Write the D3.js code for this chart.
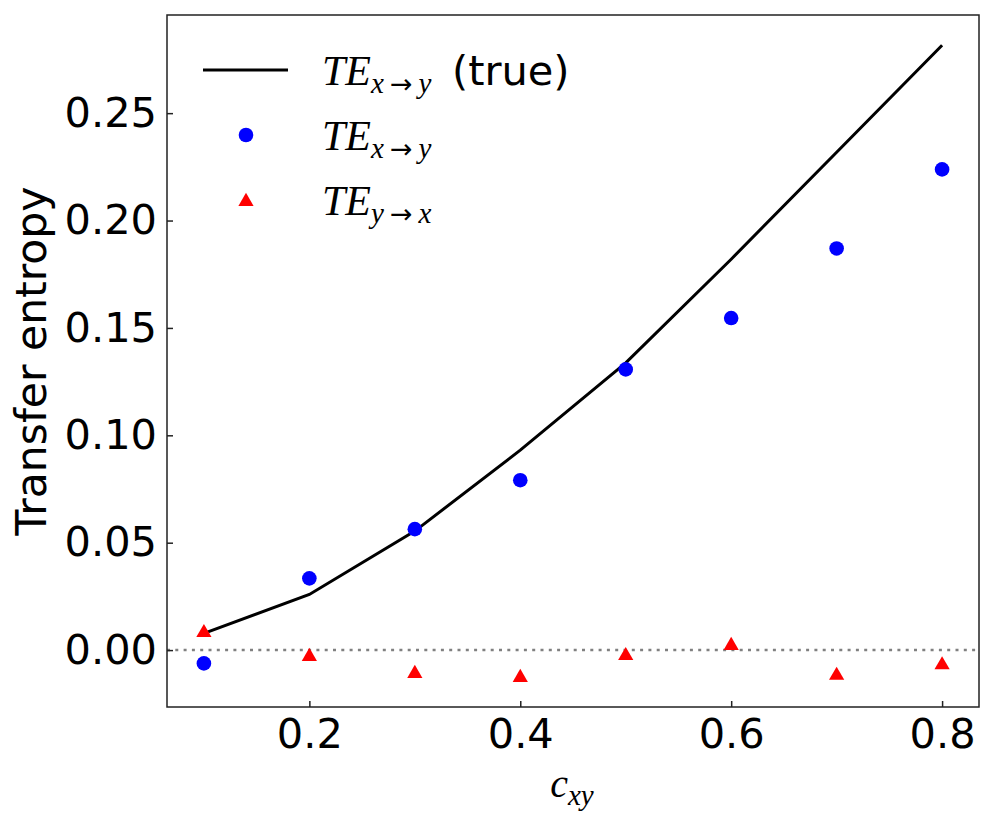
<!DOCTYPE html>
<html>
<head>
<meta charset="utf-8">
<script src="https://cdn.jsdelivr.net/npm/d3@7"></script>
<style>
  body { margin:0; background:#fff; }
  svg text { fill:#000; }
  .tick-lbl { font-family:"DejaVu Sans", sans-serif; font-size:41.5px; }
  .math { font-family:"Liberation Serif", "DejaVu Serif", serif; font-style:italic; }
</style>
</head>
<body>
<div id="chart"></div>
<script>
// ====== données
const C_XY      = [0.1, 0.2, 0.3, 0.4, 0.5, 0.6, 0.7, 0.8];
const TE_TRUE   = [0.0078, 0.0259, 0.0554, 0.0931, 0.1337, 0.182, 0.2318, 0.2816];
const TE_XY     = [-0.0062, 0.0334, 0.0563, 0.0791, 0.1307, 0.1546, 0.187, 0.2238];
const TE_YX     = [0.0088, -0.0023, -0.0102, -0.0121, -0.0019, 0.0028, -0.0111, -0.0062];
const X_TICKS   = [0.2, 0.4, 0.6, 0.8];
const Y_TICKS   = [0, 0.05, 0.10, 0.15, 0.20, 0.25];

// ====== dimensions
const W = 995, H = 825, M = {t:15, r:16, b:118, l:167};

const svg = d3.select("#chart").append("svg")
  .attr("width", W).attr("height", H);

const x = d3.scaleLinear().domain([0.065, 0.835]).range([M.l, W - M.r]);
const y = d3.scaleLinear().domain([-0.0265, 0.2957]).range([H - M.b, M.t]);

// ligne zéro pointillée
svg.append("line")
  .attr("x1", M.l).attr("x2", W - M.r)
  .attr("y1", y(0)).attr("y2", y(0))
  .attr("stroke", "#808080").attr("stroke-width", 2.5)
  .attr("stroke-dasharray", "3,5.3");

// courbe vraie
const line = d3.line().x((d,i) => x(C_XY[i])).y(d => y(d));
svg.append("path")
  .datum(TE_TRUE)
  .attr("d", line)
  .attr("fill", "none").attr("stroke", "#000").attr("stroke-width", 3);

// points estimés
svg.selectAll("circle.xy").data(TE_XY).join("circle")
  .attr("class", "xy")
  .attr("cx", (d,i) => x(C_XY[i])).attr("cy", d => y(d))
  .attr("r", 7.3).attr("fill", "#0000ff");

const tri = d3.symbol().type(d3.symbolTriangle).size(100);
svg.selectAll("path.yx").data(TE_YX).join("path")
  .attr("class", "yx")
  .attr("d", tri)
  .attr("transform", (d,i) => `translate(${x(C_XY[i])},${y(d) + 1.5})`)
  .attr("fill", "#ff0000");

// axes (ticks vers l'intérieur)
const gx = svg.append("g").attr("transform", `translate(0,${H - M.b})`)
  .call(d3.axisBottom(x).tickValues(X_TICKS).tickSize(-6).tickPadding(12).tickFormat(d3.format(".1f")));
const gy = svg.append("g").attr("transform", `translate(${M.l},0)`)
  .call(d3.axisLeft(y).tickValues(Y_TICKS).tickSize(-6).tickPadding(10).tickFormat(d3.format(".2f")));
[gx, gy].forEach(g => {
  g.select(".domain").remove();
  g.selectAll(".tick line").attr("stroke", "#222").attr("stroke-width", 1.5);
  g.selectAll(".tick text").attr("class", "tick-lbl").attr("font-family", null).attr("font-size", null);
});
gx.selectAll(".tick text").attr("dy", "0.71em");

// cadre
svg.append("rect")
  .attr("x", M.l).attr("y", M.t)
  .attr("width", W - M.r - M.l).attr("height", H - M.b - M.t)
  .attr("fill", "none").attr("stroke", "#222").attr("stroke-width", 1.5);

// libellés des axes
svg.append("text")
  .attr("class", "tick-lbl")
  .style("font-size", "42.5px")
  .attr("transform", `translate(46,${(M.t + H - M.b)/2}) rotate(-90)`)
  .attr("text-anchor", "middle")
  .text("Transfer entropy");

const xl = svg.append("text").attr("class", "math")
  .attr("x", 572).attr("y", 797).attr("text-anchor", "middle");
xl.append("tspan").attr("font-size", 40).text("c");
xl.append("tspan").attr("font-size", 29).attr("dy", 8).text("xy");

// légende
const LEG = [
  {kind:"line",   from:"x", to:"y", extra:"(true)"},
  {kind:"circle", from:"x", to:"y", extra:""},
  {kind:"tri",    from:"y", to:"x", extra:""}
];
const leg = svg.append("g");
LEG.forEach((d, i) => {
  const by = 85 + i * 65, cy = by - 15;
  if (d.kind === "line")
    leg.append("line").attr("x1", 203).attr("x2", 288).attr("y1", cy).attr("y2", cy)
      .attr("stroke", "#000").attr("stroke-width", 3);
  else if (d.kind === "circle")
    leg.append("circle").attr("cx", 246).attr("cy", cy).attr("r", 7.3).attr("fill", "#0000ff");
  else
    leg.append("path").attr("d", tri).attr("transform", `translate(246,${cy + 1.5})`).attr("fill", "#ff0000");

  const t = leg.append("text").attr("class", "math").attr("x", 322).attr("y", by);
  t.append("tspan").attr("font-size", 42).text("TE");
  const s = t.append("tspan").attr("font-size", 29).attr("dy", 8);
  s.append("tspan").text(d.from);
  s.append("tspan").attr("font-family", "'DejaVu Sans', sans-serif").attr("font-style", "normal")
    .attr("font-size", 27).attr("dx", 6).text("\u2192");
  s.append("tspan").attr("dx", 6).text(d.to);
  if (d.extra)
    leg.append("text").attr("x", 452).attr("y", by)
      .style("font-family", "'DejaVu Sans', sans-serif").style("font-size", "41.5px")
      .text(d.extra);
});
</script>
</body>
</html>
